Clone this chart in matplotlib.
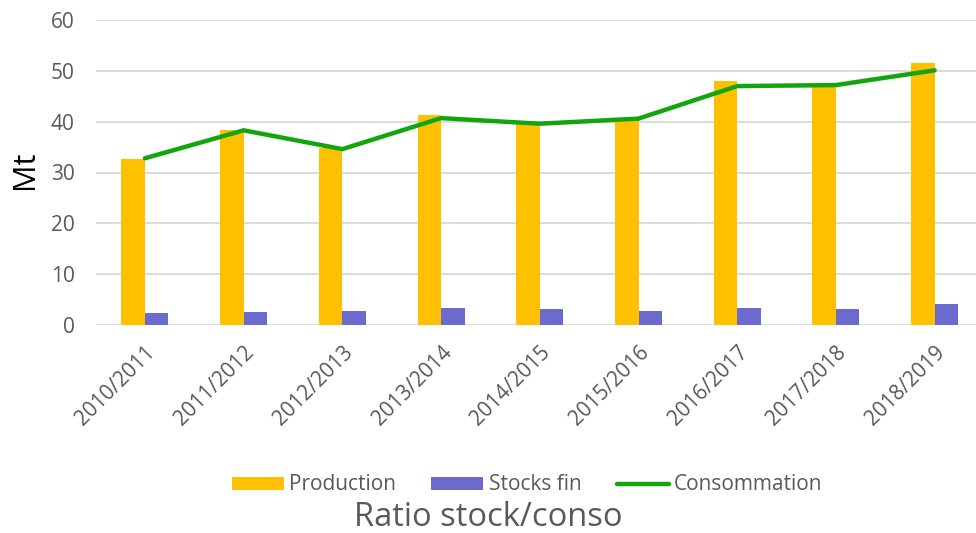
import numpy as np
from matplotlib import pyplot as plt

plt.rcParams['font.family'] = ['Open Sans', 'DejaVu Sans']

campagnes = ['2010/2011', '2011/2012', '2012/2013', '2013/2014', '2014/2015',
             '2015/2016', '2016/2017', '2017/2018', '2018/2019']
production = [32.6, 38.4, 34.9, 41.3, 39.5, 40.7, 48.0, 47.5, 51.5]
stocks_fin = [2.3, 2.5, 2.75, 3.3, 3.1, 2.75, 3.3, 3.1, 4.1]
consommation = [32.8, 38.3, 34.6, 40.7, 39.6, 40.6, 47.0, 47.2, 50.1]

grey = '#595959'
fig = plt.figure(figsize=(9.76, 5.33), dpi=100)
ax = fig.add_axes([95.6/976, 208/533, (984-95.6)/976, (325-20)/533])

x = np.arange(len(campagnes))
w = 0.238
b1 = ax.bar(x - w/2, production, w, color='#ffc000', label='Production', zorder=2)
b2 = ax.bar(x + w/2, stocks_fin, w, color='#6b6bcf', label='Stocks fin', zorder=2)
l1, = ax.plot(x, consommation, color='#13a50d', lw=3.2, label='Consommation',
              zorder=3, solid_capstyle='round')

ax.set_xlim(-0.5, len(campagnes) - 0.5)
ax.set_ylim(0, 60)
ax.set_yticks(range(0, 61, 10))
ax.yaxis.grid(True, color='#d9d9d9', lw=1.3, zorder=0)
ax.set_axisbelow(True)
for s in ax.spines.values():
    s.set_visible(False)
ax.tick_params(length=0, labelsize=15, labelcolor=grey)
ax.tick_params(axis='y', pad=15)
ax.tick_params(axis='x', pad=12)
ax.set_xticks(x)
ax.set_xticklabels(campagnes, rotation=45, ha='right', rotation_mode='anchor')
ax.set_ylabel('Mt', fontsize=22, color='black')
ax.yaxis.set_label_coords(-0.063, 0.51)

fig.legend(handles=[b1, b2, l1], loc='center',
           bbox_to_anchor=(527/976, 1 - 485/533), ncol=3,
           frameon=False, fontsize=15, labelcolor=grey, handlelength=2.5,
           handleheight=0.6, handletextpad=0.25, columnspacing=1.7)
fig.text(488/976, 1 - 518/533, 'Ratio stock/conso', ha='center', va='center',
         fontsize=23.5, color=grey)

plt.savefig('out.png', dpi=100)
